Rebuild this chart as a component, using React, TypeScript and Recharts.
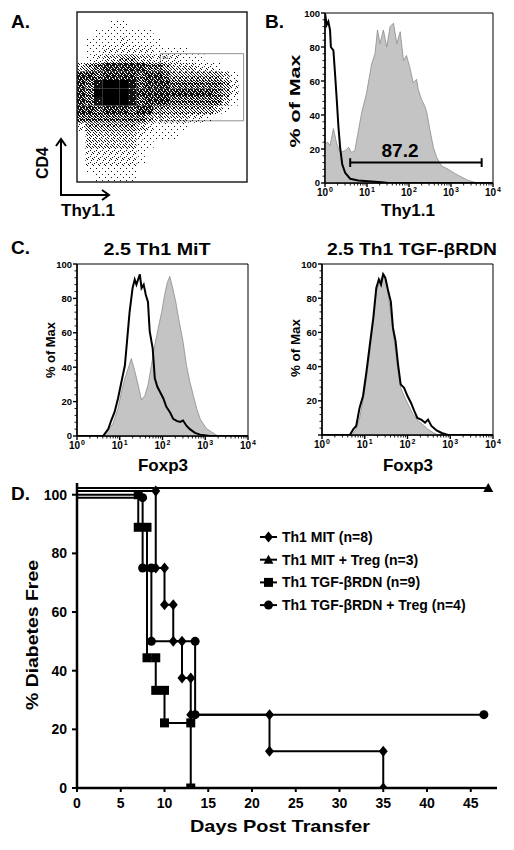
import React from 'react';
import {
  ScatterChart, Scatter, ComposedChart, Area, Line, LineChart, XAxis, YAxis,
  ReferenceArea, ReferenceLine, Legend,
} from 'recharts';

const FONT = '"Liberation Sans", Arial, Helvetica, sans-serif';

// A. CD4 vs Thy1.1 dot plot, read as a 20 x 20 density grid (first row = top of plot, 9 = black core)
const dotRows = [
  '00000000000000000000',
  '00001100000000000000',
  '00111111100000000000',
  '01111211110000000000',
  '01122222211110000000',
  '01233443322211100000',
  '34566666554333221000',
  '66566665665444444310',
  '65899985666555555420',
  '65999986666666665420',
  '65899985666555555310',
  '66566656644444443100',
  '55555555433332210000',
  '24444443211110000000',
  '03333332111100000000',
  '03333331100000000000',
  '02222221000000000000',
  '02222221000000000000',
  '01111110000000000000',
  '00111110000000000000',
];
const gateX = [49, 98];
const gateY = [36, 75.5];

// stipple used to shade the density cells (dots per 6x6 tile for each level)
const speckCount = [0, 2, 5, 9, 15, 22, 28, 32, 34, 36];
const speckOrder = [
  [0, 0], [3, 3], [1, 4], [4, 1], [2, 2], [5, 5], [0, 3], [3, 0], [5, 2], [2, 5], [1, 1], [4, 4],
  [0, 5], [5, 0], [2, 4], [4, 2], [1, 2], [3, 5], [5, 3], [2, 0], [0, 1], [4, 5], [3, 1], [1, 3],
  [5, 4], [0, 4], [2, 1], [4, 3], [1, 5], [3, 2], [5, 1], [0, 2], [2, 3], [4, 0], [1, 0], [3, 4],
];

// B. Thy1.1 histogram, x in log10 units
const bGrayX = [0, 0.06, 0.12, 0.2, 0.28, 0.36, 0.48, 0.56, 0.63, 0.71, 0.79, 0.87, 0.99, 1.11, 1.19, 1.25, 1.31, 1.39, 1.47, 1.55, 1.63, 1.71, 1.79, 1.87, 1.94, 2.02, 2.1, 2.18, 2.22, 2.3, 2.38, 2.42, 2.5, 2.58, 2.66, 2.78, 2.94, 3.1, 3.25, 3.41, 3.57, 3.73, 4];
const bGrayV = [23, 24, 22, 32, 23, 18, 19, 21, 18, 19, 30, 41, 53, 70, 76, 90, 82, 90, 80, 92, 94, 82, 89, 72, 75, 68, 59, 61, 55, 49, 45, 42, 31, 21, 15, 10, 8, 5.5, 3.5, 1.5, 0.4, 0, 0];
const bBlackX = [0, 0.04, 0.08, 0.12, 0.14, 0.2, 0.24, 0.28, 0.32, 0.36, 0.41, 0.48, 0.6, 0.79, 1.03, 1.35, 1.51, 4];
const bBlackV = [100, 93, 95, 90, 80, 78, 64, 49, 33, 21, 11, 6, 2.5, 1.5, 1, 0.4, 0, 0];
const bGateX = [0.6, 3.73];
const bGateY = 12;
const bGateLabel = '87.2';

// C. Foxp3 histograms
const cMitGrayX = [0, 0.61, 0.73, 0.84, 0.96, 1.04, 1.12, 1.22, 1.27, 1.35, 1.43, 1.51, 1.59, 1.66, 1.74, 1.82, 1.9, 1.98, 2.05, 2.11, 2.17, 2.23, 2.31, 2.39, 2.48, 2.56, 2.64, 2.72, 2.8, 2.88, 2.95, 3.03, 3.15, 3.27, 3.34, 4];
const cMitGrayV = [0, 0, 3.3, 7.2, 16, 25.7, 33.5, 41, 45, 38, 29.6, 20.8, 23.7, 29.6, 41, 53, 62.6, 72, 82, 89, 92.8, 87, 78, 66.5, 55, 41, 31.5, 23.7, 16, 10, 7.2, 4.3, 2.3, 0.4, 0, 0];
const cMitBlackX = [0, 0.61, 0.73, 0.8, 0.88, 0.96, 1.04, 1.12, 1.17, 1.23, 1.3, 1.35, 1.39, 1.43, 1.47, 1.51, 1.56, 1.61, 1.66, 1.7, 1.77, 1.82, 1.88, 1.94, 2.02, 2.09, 2.17, 2.25, 2.33, 2.41, 2.48, 2.56, 2.64, 2.76, 2.88, 3.11, 4];
const cMitBlackV = [0, 0, 4, 9, 14, 22, 31.5, 41, 55, 72, 86, 91, 88, 91, 94, 86, 88, 82, 78, 61, 51, 33.5, 28.6, 25.7, 21.8, 17, 14, 10, 8.8, 8.2, 9, 6, 4, 1.8, 0.8, 0, 0];
const cRdnGrayX = [0, 0.69, 0.8, 0.88, 0.96, 1.04, 1.12, 1.2, 1.27, 1.33, 1.39, 1.45, 1.51, 1.56, 1.63, 1.69, 1.77, 1.84, 1.94, 2.03, 2.13, 2.25, 2.37, 2.48, 2.6, 2.72, 4];
const cRdnGrayV = [0, 0, 3.3, 10, 20, 33.5, 49, 66.5, 84, 88, 92, 94, 90, 80, 66.5, 55, 39, 27.6, 21.8, 17, 12, 8.2, 5.8, 3.3, 1.4, 0, 0];
const cRdnBlackX = [0, 0.65, 0.73, 0.8, 0.88, 0.96, 1.04, 1.12, 1.2, 1.27, 1.33, 1.38, 1.43, 1.48, 1.55, 1.61, 1.66, 1.72, 1.78, 1.84, 1.92, 2.0, 2.08, 2.16, 2.23, 2.33, 2.41, 2.48, 2.56, 2.68, 2.8, 2.95, 4];
const cRdnBlackV = [0, 0, 3.3, 5.3, 16, 22.8, 37, 53, 68.5, 86, 91, 88, 94, 92, 84, 78, 62.6, 55, 41, 29.6, 27.6, 22.8, 18.9, 14, 10, 8.8, 7.2, 9, 5.3, 2.7, 1.2, 0, 0];

const logMajor = [0, 1, 2, 3, 4];
const logMinorMult = [2, 3, 4, 5, 6, 7, 8, 9];
const histTicks = [0, 4, 8, 12, 16, 20, 24, 28, 32, 36, 40, 44, 48, 52, 56, 60, 64, 68, 72, 76, 80, 84, 88, 92, 96, 100];

// D. Kaplan-Meier survival: event days and % diabetes free after each event
const groups = ['Th1 MIT (n=8)', 'Th1 MIT + Treg (n=3)', 'Th1 TGF-βRDN (n=9)', 'Th1 TGF-βRDN + Treg (n=4)'];
const shapes = ['diamond', 'triangle', 'square', 'circle'];
const mitStart = 101.3;
const mitDays = [9, 10, 11, 12, 13, 22, 35];
const mitSurv = [75, 62.5, 50, 37.5, 25, 12.5, 0];
const mitTregStart = 102.3;
const mitTregEnd = 47;
const rdnStart = 100;
const rdnDays = [7, 8, 9, 10, 13];
const rdnSurv = [88.9, 44.4, 33.3, 22.2, 0];
const rdnTregStart = 99;
const rdnTregDays = [7.5, 8.5, 13.5];
const rdnTregSurv = [75, 50, 25];
const rdnTregEnd = 46.5;
const dayTicks = [0, 5, 10, 15, 20, 25, 30, 35, 40, 45];
const freeTicks = [0, 20, 40, 60, 80, 100];

const zip = (xs: number[], vs: number[]) => xs.map((x, i) => ({ x, v: vs[i] }));

const kmPoints = (start: number, days: number[], surv: number[], end?: number) => {
  const pts = [{ x: 0, y: start }];
  let prev = start;
  days.forEach((d, i) => {
    pts.push({ x: d, y: prev });
    pts.push({ x: d, y: surv[i] });
    prev = surv[i];
  });
  if (end !== undefined) pts.push({ x: end, y: prev });
  return pts;
};

const dotCells = dotRows.flatMap((row, r) =>
  row.split('').map((ch, c) => ({ x: c * 5 + 2.5, y: 100 - (r * 5 + 2.5), lvl: Number(ch) }))
).filter(d => d.lvl > 0);

const logTicks = logMajor.flatMap(d => (d < 4 ? [d, ...logMinorMult.map(m => d + Math.log10(m))] : [d]));

const CellShape = (props: any) => {
  const { cx, cy, payload } = props;
  const s = 8.6;
  const fill = payload.lvl >= 9 ? '#000' : `url(#speck${payload.lvl})`;
  return <rect x={cx - s / 2} y={cy - s / 2} width={s} height={s} fill={fill} />;
};

const LogTick = (props: any) => {
  const { x, y, payload } = props;
  const v = payload.value;
  const major = Math.abs(v - Math.round(v)) < 1e-6;
  return (
    <g>
      <line x1={x} x2={x} y1={y} y2={y + (major ? 4 : 2.5)} stroke="#000" strokeWidth={major ? 1.4 : 0.9} />
      {major && (
        <text x={x} y={y + 13} textAnchor="middle" fontFamily={FONT} fontWeight="bold" fontSize={10} fill="#000">
          10<tspan dx={1} dy={-4} fontSize={7}>{Math.round(v)}</tspan>
        </text>
      )}
    </g>
  );
};

const PctTick = (props: any) => {
  const { x, y, payload, hideZero } = props;
  const v = payload.value;
  const major = v % 20 === 0;
  return (
    <g>
      <line x1={x} x2={x - (major ? 4 : 2.5)} y1={y} y2={y} stroke="#000" strokeWidth={major ? 1.4 : 0.9} />
      {major && !(hideZero && v === 0) && (
        <text x={x - 5} y={y + (v === 0 ? 2.5 : 3.5)} textAnchor="end" fontFamily={FONT} fontWeight="bold" fontSize={9.5} fill="#000">
          {v}
        </text>
      )}
    </g>
  );
};

const Histo = ({ width, height, yw, margin, xh, gray, black, hideZero, children }: any) => (
  <ComposedChart width={width} height={height} margin={margin}>
    <XAxis type="number" dataKey="x" domain={[0, 4]} ticks={logTicks} interval={0} height={xh}
      tick={<LogTick />} tickLine={false} tickSize={0} tickMargin={0} allowDataOverflow
      axisLine={{ stroke: '#000', strokeWidth: 1.5 }} />
    <YAxis type="number" domain={[0, 100]} ticks={histTicks} interval={0} width={yw}
      tick={<PctTick hideZero={hideZero} />} tickLine={false} tickSize={0} tickMargin={0} allowDataOverflow
      axisLine={{ stroke: '#000', strokeWidth: 1.5 }} />
    <ReferenceArea x1={0} x2={4} y1={0} y2={100} fill="none" stroke="#000" strokeWidth={1} />
    <Area data={gray} dataKey="v" type="linear" stroke="#8c8c8c" strokeWidth={0.8} fill="#c4c4c4"
      fillOpacity={1} dot={false} activeDot={false} isAnimationActive={false} />
    <Line data={black} dataKey="v" type="linear" stroke="#000" strokeWidth={2} dot={false}
      activeDot={false} isAnimationActive={false} />
    {children}
  </ComposedChart>
);

const Mark = ({ shape, cx, cy }: any) => {
  if (shape === 'diamond') return <path d={`M${cx},${cy - 5.5}L${cx + 4.5},${cy}L${cx},${cy + 5.5}L${cx - 4.5},${cy}Z`} fill="#000" />;
  if (shape === 'triangle') return <path d={`M${cx},${cy - 5}L${cx + 5},${cy + 4}L${cx - 5},${cy + 4}Z`} fill="#000" />;
  if (shape === 'square') return <rect x={cx - 4.5} y={cy - 4.5} width={9} height={9} fill="#000" />;
  return <circle cx={cx} cy={cy} r={4.5} fill="#000" />;
};

const markerDot = (shape: string) => (props: any) => {
  const { cx, cy, index } = props;
  if (index === 0 || cx == null || cy == null) return <g key={`${shape}-${index}`} />;
  return <g key={`${shape}-${index}`}><Mark shape={shape} cx={cx} cy={cy} /></g>;
};

const renderLegend = () => (
  <svg width={250} height={100}>
    {groups.map((g, i) => {
      const y = 13 + i * 22.7;
      return (
        <g key={g}>
          <line x1={2} x2={19} y1={y - 5} y2={y - 5} stroke="#000" strokeWidth={2} />
          <Mark shape={shapes[i]} cx={10.5} cy={y - 5} />
          <text x={24} y={y} fontFamily={FONT} fontWeight="bold" fontSize={14} fill="#000">{g}</text>
        </g>
      );
    })}
  </svg>
);

const Txt = ({ x, y, size, children, rot, len, anchor = 'middle' }: any) => (
  <text x={x} y={y} fontSize={size} fontWeight="bold" fontFamily={FONT} textAnchor={anchor} fill="#000"
    transform={rot ? `rotate(-90 ${x} ${y})` : undefined}
    textLength={len} lengthAdjust={len ? 'spacingAndGlyphs' : undefined}>
    {children}
  </text>
);

const abs = (left: number, top: number): React.CSSProperties => ({ position: 'absolute', left, top });

const App = () => {
  const mitPts = kmPoints(mitStart, mitDays, mitSurv);
  const mitTregPts = kmPoints(mitTregStart, [], [], mitTregEnd);
  const rdnPts = kmPoints(rdnStart, rdnDays, rdnSurv);
  const rdnTregPts = kmPoints(rdnTregStart, rdnTregDays, rdnTregSurv, rdnTregEnd);
  const series = [mitPts, mitTregPts, rdnPts, rdnTregPts];

  return (
    <div style={{ position: 'absolute', left: 0, top: 0, width: 514, height: 850, background: '#fff', overflow: 'hidden' }}>
      <svg width={0} height={0} style={{ position: 'absolute' }}>
        <defs>
          {speckCount.map((n, k) => (
            <pattern key={k} id={`speck${k}`} width={6} height={6} patternUnits="userSpaceOnUse">
              {speckOrder.slice(0, n).map(([a, b]) => (
                <rect key={`${a}-${b}`} x={a} y={b} width={1} height={1} fill="#111" />
              ))}
            </pattern>
          ))}
        </defs>
      </svg>

      {/* A */}
      <div style={abs(0, 0)}>
        <ScatterChart width={260} height={200} margin={{ top: 12, right: 13, bottom: 18, left: 77 }}>
          <XAxis type="number" dataKey="x" domain={[0, 100]} hide />
          <YAxis type="number" dataKey="y" domain={[0, 100]} hide />
          <Scatter data={dotCells} shape={<CellShape />} isAnimationActive={false} />
          <ReferenceArea x1={gateX[0]} x2={gateX[1]} y1={gateY[0]} y2={gateY[1]} fill="none" stroke="#777" strokeWidth={0.8}
            label={{ value: 'R4', position: 'insideTopLeft', fontSize: 5, fill: '#333', offset: 2 }} />
          <ReferenceArea x1={0} x2={100} y1={0} y2={100} fill="none" stroke="#222" strokeWidth={1.5} />
        </ScatterChart>
      </div>

      {/* B */}
      <div style={abs(255, 0)}>
        <Histo width={259} height={215} yw={70} xh={32} margin={{ top: 13, right: 21, bottom: 0, left: 0 }}
          gray={zip(bGrayX, bGrayV)} black={zip(bBlackX, bBlackV)}>
          <ReferenceLine segment={[{ x: bGateX[0], y: bGateY }, { x: bGateX[1], y: bGateY }]} stroke="#000" strokeWidth={2} />
          <ReferenceLine segment={[{ x: bGateX[0], y: bGateY - 2.6 }, { x: bGateX[0], y: bGateY + 2.6 }]} stroke="#000" strokeWidth={2} />
          <ReferenceLine segment={[{ x: bGateX[1], y: bGateY - 2.6 }, { x: bGateX[1], y: bGateY + 2.6 }]} stroke="#000" strokeWidth={2} />
        </Histo>
      </div>

      {/* C left */}
      <div style={abs(0, 250)}>
        <Histo width={257} height={220} yw={77} xh={34} margin={{ top: 14, right: 9, bottom: 0, left: 0 }}
          gray={zip(cMitGrayX, cMitGrayV)} black={zip(cMitBlackX, cMitBlackV)} />
      </div>

      {/* C right */}
      <div style={abs(257, 250)}>
        <Histo width={257} height={220} yw={65} xh={35} margin={{ top: 14, right: 21, bottom: 0, left: 0 }} hideZero
          gray={zip(cRdnGrayX, cRdnGrayV)} black={zip(cRdnBlackX, cRdnBlackV)} />
      </div>

      {/* D */}
      <div style={abs(0, 470)}>
        <LineChart width={514} height={380} margin={{ top: 13, right: 17, bottom: 0, left: 0 }}>
          <XAxis type="number" dataKey="x" domain={[0, 48]} ticks={dayTicks} interval={0} height={62}
            tickSize={4} tickMargin={6} allowDataOverflow
            axisLine={{ stroke: '#000', strokeWidth: 2.5 }} tickLine={{ stroke: '#000', strokeWidth: 2 }}
            tick={{ fill: '#000', fontSize: 14, fontWeight: 'bold', fontFamily: FONT }} />
          <YAxis type="number" domain={[0, 104]} ticks={freeTicks} interval={0} width={77}
            tickSize={5} tickMargin={5} allowDataOverflow
            axisLine={{ stroke: '#000', strokeWidth: 2.5 }} tickLine={{ stroke: '#000', strokeWidth: 2 }}
            tick={{ fill: '#000', fontSize: 14, fontWeight: 'bold', fontFamily: FONT }} />
          {series.map((pts, i) => (
            <Line key={groups[i]} data={pts} dataKey="y" name={groups[i]} type="linear" stroke="#000" strokeWidth={2}
              dot={markerDot(shapes[i])} activeDot={false} isAnimationActive={false} />
          ))}
          <Legend layout="vertical" align="center" verticalAlign="middle" content={renderLegend}
            wrapperStyle={{ left: 258, top: 59, width: 250 }} />
        </LineChart>
      </div>

      {/* panel letters, axis titles, arrows */}
      <svg width={514} height={850} style={{ position: 'absolute', left: 0, top: 0, pointerEvents: 'none' }}>
        <Txt x={11} y={28} size={19} anchor="start">A.</Txt>
        <Txt x={265} y={28} size={19} anchor="start">B.</Txt>
        <Txt x={11} y={254} size={19} anchor="start">C.</Txt>
        <Txt x={11} y={500} size={19} anchor="start">D.</Txt>

        <g stroke="#000" strokeWidth={2} fill="none">
          <line x1={61} y1={196} x2={61} y2={139} />
          <polyline points="56,146 61,139 66,146" />
          <line x1={60} y1={195} x2={109} y2={195} />
          <polyline points="102,190 109,195 102,200" />
        </g>
        <Txt x={48} y={163} size={16} rot>CD4</Txt>
        <Txt x={88} y={216} size={17}>Thy1.1</Txt>

        <Txt x={300} y={101} size={14} rot len={93}>% of Max</Txt>
        <Txt x={408} y={216} size={17}>Thy1.1</Txt>
        <Txt x={400} y={157} size={19}>{bGateLabel}</Txt>

        <Txt x={157} y={255} size={17} len={107}>2.5 Th1 MiT</Txt>
        <Txt x={412} y={255} size={17} len={170}>2.5 Th1 TGF-βRDN</Txt>
        <Txt x={55} y={350} size={12} rot len={56}>% of Max</Txt>
        <Txt x={300} y={348} size={12} rot len={58}>% of Max</Txt>
        <Txt x={163} y={471} size={17}>Foxp3</Txt>
        <Txt x={408} y={471} size={17}>Foxp3</Txt>

        <Txt x={38} y={635} size={17} rot len={150}>% Diabetes Free</Txt>
        <Txt x={280} y={832} size={17} len={180}>Days Post Transfer</Txt>
      </svg>
    </div>
  );
};

export default App;
